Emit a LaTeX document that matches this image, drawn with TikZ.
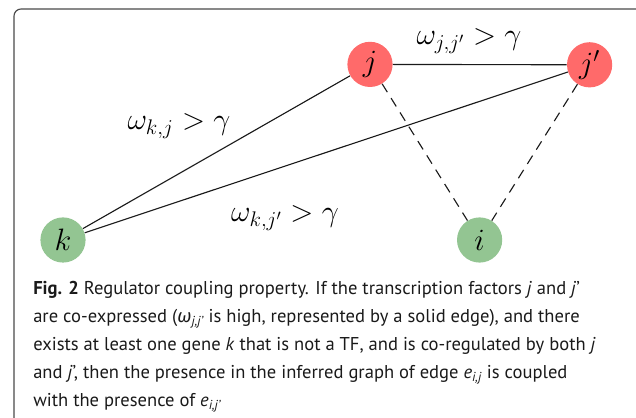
\RequirePackage{fix-cm}
\documentclass[tikz,border=0pt]{standalone}
\usepackage{fontspec}
\newfontfamily\capfont{PT Sans}
\newfontfamily\grkfont{Fira Sans}
\usetikzlibrary{calc}
\definecolor{tfred}{HTML}{FF6A6A}
\definecolor{genegreen}{HTML}{93C592}
\definecolor{framegray}{HTML}{4A4A4A}
\definecolor{ink}{HTML}{1A1A1A}

\begin{document}
\begin{tikzpicture}[
  tfnode/.style={circle, fill=tfred, minimum size=1.13cm, inner sep=0pt,
    font=\fontsize{22}{26}\selectfont},
  genenode/.style={circle, fill=genegreen, minimum size=1.13cm, inner sep=0pt,
    font=\fontsize{22}{26}\selectfont},
  coexp/.style={ink, line width=0.8pt},
  coreg/.style={ink, line width=0.8pt, dash pattern=on 7pt off 5pt},
  wlabel/.style={font=\fontsize{21.5}{26}\selectfont},
  caption/.style={align=left, inner sep=0pt, text=ink,
    font=\capfont\fontsize{13.2}{19.9}\selectfont}]

\useasboundingbox (0,0) rectangle (15.9,10.45);

% Frame
\draw[framegray, line width=0.8pt, rounded corners=5pt]
  (0.35,-0.5) |- (16.5,10.225);

% Transcription factors and genes
\node[tfnode] (j) at (9.25,8.84) {$j$};
\node[tfnode] (jp) at (14.74,8.83) {$j'$};
\node[genenode] (k) at (1.575,4.45) {$k$};
\node[genenode] (i) at (11.99,4.45) {$i$};

% Edges
\draw[coexp] (k) -- (j);
\draw[coexp] (k) -- (jp);
\draw[coexp] (j) -- (jp);
\draw[coreg] (j) -- (i);
\draw[coreg] (jp) -- (i);

% Edge weights
\node[wlabel] (wjjp) at (11.725,9.42) {$\omega_{j,j'} > \gamma$};
\node[wlabel] (wkj) at (4.475,7.30) {$\omega_{k,j} > \gamma$};
\node[wlabel] (wkjp) at (7.125,5.00) {$\omega_{k,j'} > \gamma$};

% Caption
\node[caption, anchor=north west] (cap) at (0.825,3.42)
  {\textbf{Fig. 2} Regulator coupling property. If the transcription factors \textit{j} and \textit{j}’\\
   are co-expressed ({\grkfont\itshape ω}\textsubscript{\itshape j,j’} is high, represented by a solid edge), and there\\
   exists at least one gene \textit{k} that is not a TF, and is co-regulated by both \textit{j}\\
   and \textit{j}’, then the presence in the inferred graph of edge \textit{e}\textsubscript{\itshape i,j} is coupled\\
   with the presence of \textit{e}\textsubscript{\itshape i,j’}};

\end{tikzpicture}
\end{document}
